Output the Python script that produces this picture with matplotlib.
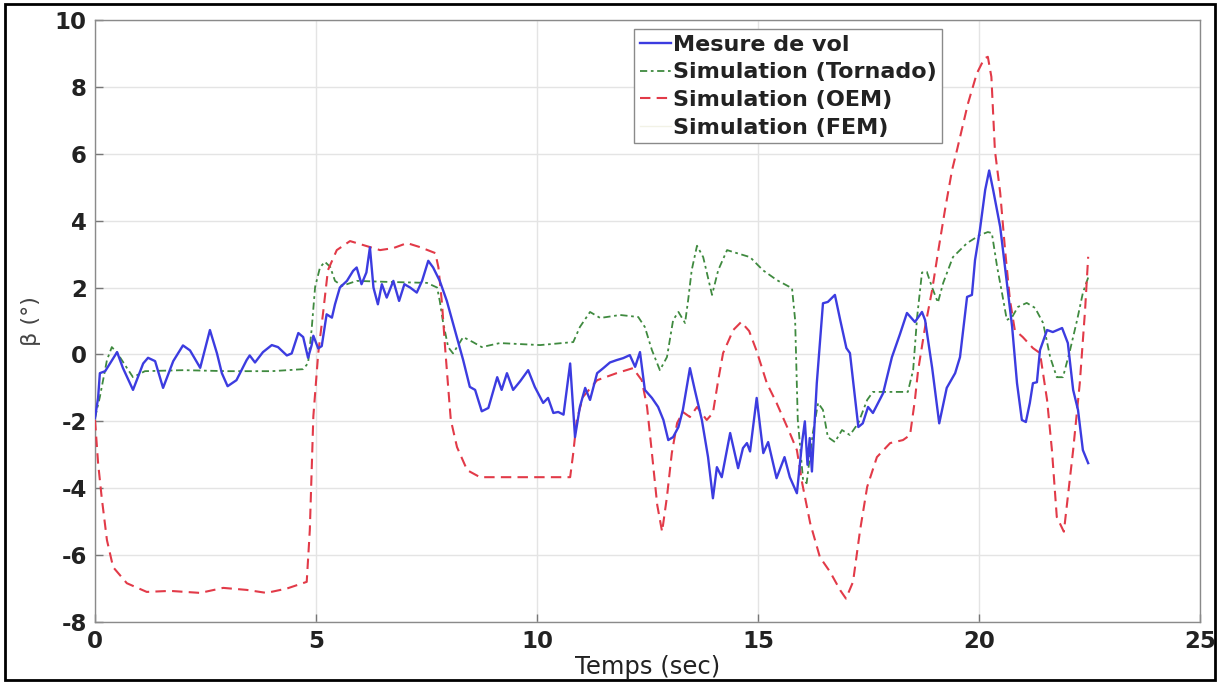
import matplotlib
matplotlib.use("Agg")
import matplotlib.pyplot as plt
from matplotlib.patches import Rectangle

# Flight measurement of sideslip angle
meas_t = [0, 0.07, 0.11, 0.23, 0.5, 0.63, 0.86, 1.09, 1.2, 1.36, 1.54, 1.77, 1.99, 2.15,
          2.38, 2.6, 2.76, 2.87, 3.0, 3.2, 3.43, 3.5, 3.62, 3.8, 4.0, 4.14, 4.34, 4.45,
          4.6, 4.71, 4.82, 4.9, 4.94, 5.05, 5.13, 5.24, 5.36, 5.43, 5.54, 5.7, 5.84, 5.92,
          6.03, 6.14, 6.22, 6.3, 6.4, 6.49, 6.6, 6.75, 6.88, 7.0, 7.13, 7.28, 7.4, 7.54,
          7.65, 7.8, 7.96, 8.19, 8.33, 8.48, 8.6, 8.75, 8.9, 9.1, 9.2, 9.32, 9.46, 9.62,
          9.8, 9.95, 10.14, 10.25, 10.37, 10.48, 10.6, 10.75, 10.86, 10.97, 11.09, 11.2,
          11.36, 11.5, 11.65, 11.8, 11.95, 12.1, 12.22, 12.33, 12.44, 12.6, 12.74, 12.86,
          12.97, 13.08, 13.2, 13.3, 13.46, 13.57, 13.73, 13.87, 13.98, 14.07, 14.18, 14.37,
          14.55, 14.66, 14.75, 14.82, 14.97, 15.12, 15.23, 15.42, 15.6, 15.72, 15.88, 16.0,
          16.06, 16.12, 16.17, 16.22, 16.33, 16.47, 16.58, 16.74, 16.86, 17.0, 17.08, 17.27,
          17.37, 17.49, 17.6, 17.83, 18.03, 18.21, 18.37, 18.55, 18.71, 18.78, 18.94, 19.1,
          19.27, 19.46, 19.57, 19.73, 19.84, 19.91, 20.02, 20.14, 20.23, 20.32, 20.48, 20.63,
          20.75, 20.86, 20.97, 21.06, 21.15, 21.22, 21.31, 21.38, 21.54, 21.67, 21.88, 22.01,
          22.13, 22.24, 22.35, 22.47]
meas_beta = [-1.9, -1.3, -0.56, -0.5, 0.07, -0.4, -1.06, -0.27, -0.1, -0.2, -1.0, -0.2, 0.27, 0.12,
             -0.4, 0.73, 0.03, -0.56, -0.95, -0.77, -0.17, -0.03, -0.24, 0.07, 0.28, 0.22, -0.03, 0.03,
             0.64, 0.52, -0.1, 0.27, 0.56, 0.18, 0.25, 1.2, 1.1, 1.5, 2.0, 2.2, 2.5, 2.6,
             2.1, 2.45, 3.2, 2.0, 1.5, 2.1, 1.7, 2.2, 1.6, 2.1, 2.0, 1.85, 2.2, 2.8,
             2.6, 2.2, 1.6, 0.5, -0.17, -0.97, -1.06, -1.7, -1.6, -0.68, -1.06, -0.56, -1.06, -0.8,
             -0.47, -0.97, -1.45, -1.3, -1.75, -1.72, -1.8, -0.27, -2.47, -1.57, -1.0, -1.36,
             -0.56, -0.41, -0.24, -0.17, -0.11, -0.02, -0.37, 0.07, -1.06, -1.3, -1.57, -1.96,
             -2.56, -2.47, -2.17, -1.66, -0.41, -1.06, -1.96, -3.07, -4.3, -3.37, -3.67, -2.35,
             -3.4, -2.8, -2.65, -2.9, -1.3, -2.95, -2.62, -3.7, -3.07, -3.67, -4.15, -2.6,
             -2.0, -3.3, -2.5, -3.5, -0.86, 1.53, 1.57, 1.78, 1.03, 0.19, 0.04, -2.17,
             -2.06, -1.57, -1.75, -1.16, -0.08, 0.6, 1.24, 0.97, 1.27, 1.03, -0.4, -2.06,
             -1.0, -0.56, -0.08, 1.72, 1.78, 2.82, 3.72, 4.92, 5.5, 4.92, 3.81, 2.14,
             0.82, -0.86, -1.96, -2.02, -1.45, -0.86, -0.83, 0.13, 0.73, 0.67, 0.79, 0.34,
             -1.06, -1.66, -2.86, -3.25]

# Tornado simulation
torn_t = [0, 0.11, 0.27, 0.38, 0.5, 0.72, 0.86, 1.13, 2.0, 3.0, 4.0, 4.71, 4.82, 4.9, 4.98,
          5.09, 5.2, 5.32, 5.43, 5.59, 5.92, 6.6, 7.51, 7.74, 7.8, 7.87, 7.99, 8.1, 8.33,
          8.55, 8.75, 9.16, 10.07, 10.82, 10.97, 11.2, 11.43, 11.88, 12.29, 12.44, 12.6,
          12.78, 12.94, 13.08, 13.2, 13.35, 13.42, 13.5, 13.62, 13.76, 13.96, 14.1, 14.3,
          14.52, 14.82, 15.11, 15.43, 15.77, 15.84, 15.9, 16.02, 16.1, 16.24, 16.36, 16.47,
          16.58, 16.74, 16.9, 17.08, 17.27, 17.47, 17.6, 17.99, 18.39, 18.51, 18.6, 18.71,
          18.82, 18.94, 19.07, 19.19, 19.41, 19.73, 20.02, 20.2, 20.29, 20.41, 20.52, 20.63,
          20.75, 20.88, 21.08, 21.27, 21.45, 21.61, 21.76, 21.9, 22.06, 22.22, 22.35, 22.47]
torn_beta = [-1.9, -1.27, -0.17, 0.22, 0.05, -0.4, -0.68, -0.5, -0.47, -0.5, -0.5, -0.44, -0.26, 0.73, 2.02,
             2.6, 2.77, 2.62, 2.2, 2.05, 2.2, 2.17, 2.14, 2.0, 1.6, 1.0, 0.22, 0.03, 0.52,
             0.37, 0.22, 0.34, 0.28, 0.37, 0.82, 1.27, 1.09, 1.18, 1.12, 0.82, 0.13,
             -0.47, -0.08, 1.03, 1.27, 0.94, 1.63, 2.52, 3.25, 2.91, 1.78, 2.52, 3.12,
             3.03, 2.91, 2.52, 2.22, 1.98, 1.03, -1.96, -3.76, -3.85, -2.35, -1.45, -1.66,
             -2.47, -2.62, -2.26, -2.41, -2.05, -1.36, -1.12, -1.12, -1.12, -0.47, 1.12, 2.45,
             2.47, 2.0, 1.55, 2.14, 2.91, 3.33, 3.57, 3.66, 3.63, 2.62, 1.84, 1.03,
             1.12, 1.42, 1.54, 1.39, 0.94, -0.08, -0.68, -0.68, 0.13, 1.03, 1.84, 2.3]

# OEM simulation
oem_t = [0, 0.07, 0.15, 0.27, 0.41, 0.72, 1.17, 1.7, 2.38, 2.9, 3.43, 3.88, 4.34, 4.79, 4.86,
         4.94, 5.05, 5.16, 5.27, 5.47, 5.77, 6.07, 6.45, 6.75, 7.06, 7.35, 7.7, 7.77, 7.85,
         7.92, 7.99, 8.05, 8.19, 8.42, 8.71, 9.55, 10.75, 10.82, 10.9, 11.04, 11.36, 11.8,
         12.17, 12.37, 12.49, 12.6, 12.72, 12.83, 12.94, 13.05, 13.17, 13.3, 13.46, 13.62,
         13.84, 13.98, 14.1, 14.21, 14.44, 14.62, 14.8, 14.97, 15.2, 15.42, 15.72, 15.88,
         16.0, 16.18, 16.4, 16.63, 16.86, 16.99, 17.15, 17.31, 17.47, 17.69, 17.99, 18.28,
         18.44, 18.55, 18.62, 18.78, 18.94, 19.07, 19.23, 19.39, 19.5, 19.75, 19.95, 20.12,
         20.2, 20.28, 20.36, 20.48, 20.59, 20.7, 20.81, 20.99, 21.22, 21.38, 21.54, 21.65,
         21.76, 21.92, 22.13, 22.28, 22.4, 22.47]
oem_beta = [-1.96, -3.25, -4.26, -5.55, -6.36, -6.84, -7.1, -7.07, -7.13, -6.98, -7.04, -7.13, -7.0, -6.8, -5.25,
            -1.85, 0.03, 1.24, 2.52, 3.12, 3.39, 3.27, 3.12, 3.18, 3.33, 3.21, 3.03, 2.6, 1.54,
            0.22, -0.97, -1.96, -2.77, -3.46, -3.67, -3.67, -3.67, -2.95, -1.96, -1.27, -0.77, -0.56,
            -0.41, -0.77, -1.57, -2.95, -4.5, -5.3, -4.26, -2.95, -2.05, -1.72, -1.87, -1.57,
            -1.96, -1.75, -0.77, 0.04, 0.73, 0.97, 0.7, 0.1, -0.86, -1.45, -2.35, -2.86,
            -3.85, -5.04, -6.06, -6.5, -7.05, -7.3, -6.8, -5.25, -3.96, -3.07, -2.65, -2.56,
            -2.41, -1.36, -0.5, 0.82, 1.93, 3.03, 4.32, 5.51, 6.1, 7.5, 8.4, 8.85,
            8.9, 8.3, 6.1, 4.83, 3.12, 1.63, 0.73, 0.52, 0.19, 0.04, -1.36, -2.86,
            -4.86, -5.3, -2.86, -0.86, 1.33, 2.92]

# FEM simulation (no samples drawn)
fem_t = []
fem_beta = []

x_ticks = [0, 5, 10, 15, 20, 25]
y_ticks = [-8, -6, -4, -2, 0, 2, 4, 6, 8, 10]

plt.rcParams['font.family'] = ['DejaVu Sans']

fig = plt.figure(figsize=(12.2, 6.84), dpi=100)
ax = fig.add_axes([95 / 1220, 62 / 684, 1105 / 1220, 602 / 684])

ax.plot(meas_t, meas_beta, color='#3c3ce0', lw=1.7, label='Mesure de vol', zorder=4)
ax.plot(torn_t, torn_beta, color='#3f8a3f', lw=1.3, dashes=(4, 2, 1.5, 2),
        label='Simulation (Tornado)', zorder=3)
ax.plot(oem_t, oem_beta, color='#e23a48', lw=1.5, dashes=(5, 3),
        label='Simulation (OEM)', zorder=3)
ax.plot(fem_t, fem_beta, color='#f2f2e6', lw=1.0, label='Simulation (FEM)')

ax.set_xlim(0, 25)
ax.set_ylim(-8, 10)
ax.set_xticks(x_ticks)
ax.set_yticks(y_ticks)
ax.set_xticklabels([str(v) for v in x_ticks])
ax.set_yticklabels([str(v) for v in y_ticks])
ax.grid(True, color='#e4e4e4', lw=1.0, ls='-')
ax.set_axisbelow(True)
ax.tick_params(direction='in', length=6, width=1, color='#777777',
               labelsize=16.5, pad=6, top=False, right=False)
for lab in ax.get_xticklabels() + ax.get_yticklabels():
    lab.set_fontweight('bold')
    lab.set_color('#222222')
for sp in ax.spines.values():
    sp.set_color('#8a8a8a')
    sp.set_linewidth(1.0)

ax.set_xlabel('Temps (sec)', fontsize=17.5, color='#222222', labelpad=1)
ax.set_ylabel('β (°)', fontsize=16, color='#444444', labelpad=10)

leg = ax.legend(loc='upper left', bbox_to_anchor=(0.488, 0.985), frameon=True,
                fancybox=False, framealpha=1.0, edgecolor='#8a8a8a',
                prop={'size': 16, 'weight': 'bold'}, handlelength=1.4,
                handletextpad=0.1, labelspacing=0.35, borderpad=0.25,
                borderaxespad=0.0)
leg.get_frame().set_linewidth(1.0)
for txt in leg.get_texts():
    txt.set_color('#222222')

fig.patches.append(Rectangle((0.004, 0.006), 0.992, 0.988, transform=fig.transFigure,
                             fill=False, edgecolor='black', lw=2.0))

fig.savefig('out.png', dpi=100)
